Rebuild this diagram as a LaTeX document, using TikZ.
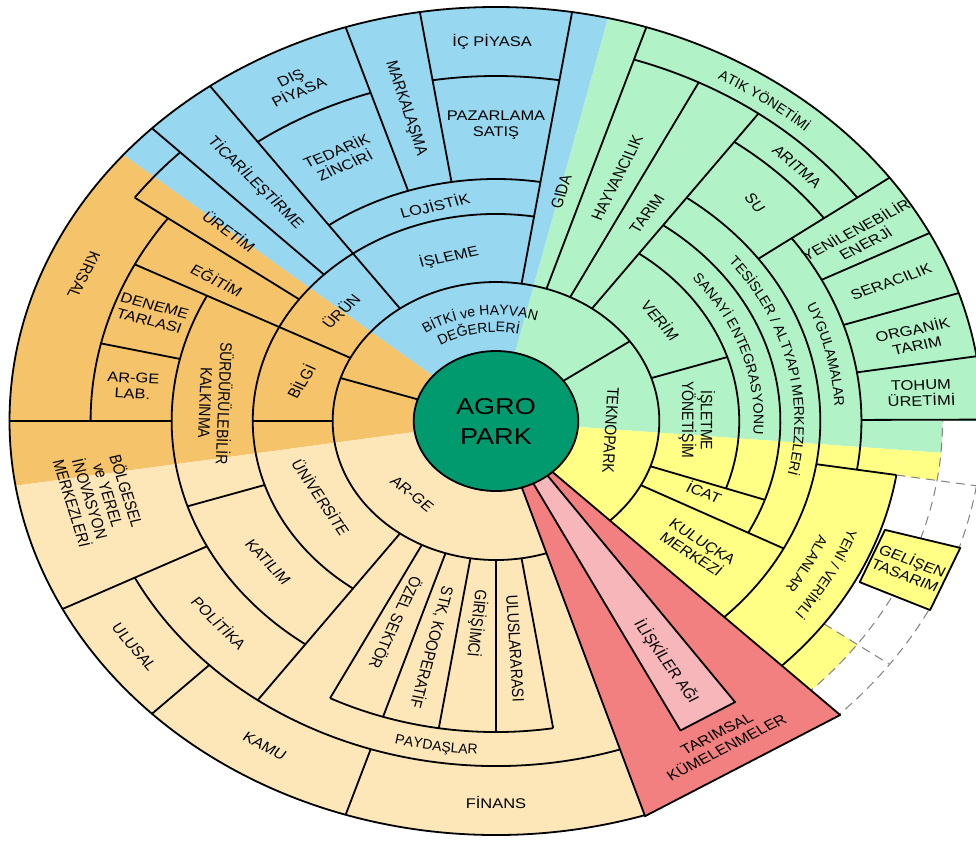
\documentclass[tikz,border=0pt]{standalone}
\usepackage{fontspec}
\setmainfont{Liberation Sans}
\usetikzlibrary{shapes.geometric,decorations.text}

\definecolor{skyblue}{HTML}{97D7EF}
\definecolor{mint}{HTML}{B1F3C6}
\definecolor{lemon}{HTML}{FFFF85}
\definecolor{amber}{HTML}{F5C46A}
\definecolor{sand}{HTML}{FDE7B9}
\definecolor{salmon}{HTML}{F28080}
\definecolor{blush}{HTML}{F7B6BA}
\definecolor{agrogreen}{HTML}{009A6E}

\newcommand\ringfont{\fontsize{14}{16}\selectfont}

\begin{document}
\begin{tikzpicture}[x=1pt,y=1pt,xscale=1.175]

\tikzset{%
  border/.style   = {line width=1.8pt, line join=round},
  dashedge/.style = {gray, line width=1pt, dash pattern=on 9pt off 6pt},
  word/.style     = {transform shape, align=center, inner sep=0pt, font=\ringfont},
  hub/.style      = {transform shape, ellipse, draw, line width=1.8pt, fill=agrogreen,
                     minimum width=140pt, minimum height=140pt, inner sep=0pt, align=center,
                     font=\fontsize{23}{30}\selectfont},
  curved/.style   = {decorate, decoration={text along path, text align=center, text={|\ringfont|#1}}},
}

\useasboundingbox (-422.1,-420) rectangle (408.5,421);
\clip (-422.1,-420) rectangle (408.5,421);

% colour sectors
\fill[mint]    (0,0) -- (-4.8:380) arc[start angle=-4.8, end angle=0, radius=380]
               -- (0:414) arc[start angle=0, end angle=76.7, radius=414] -- cycle;
\fill[skyblue] (0,0) -- (76.7:414) arc[start angle=76.7, end angle=140, radius=414] -- cycle;
\fill[amber]   (0,0) -- (140:414) arc[start angle=140, end angle=189, radius=414] -- cycle;
\fill[sand]    (0,0) -- (189:414) arc[start angle=189, end angle=288, radius=414] -- cycle;
\fill[lemon]   (0,0) -- (-47:345) arc[start angle=-47, end angle=-4.8, radius=345] -- cycle;
\fill[lemon]   (-9:345) arc[start angle=-9, end angle=-4.8, radius=345]
               -- (-4.8:380) arc[start angle=-4.8, end angle=-9, radius=380] -- cycle;
\fill[lemon]   (-47:345) arc[start angle=-47, end angle=-36, radius=345]
               -- (-36:380) arc[start angle=-36, end angle=-47, radius=380] -- cycle;

% open fields
\draw[dashedge] (-46:380) arc[start angle=-46, end angle=0, radius=380];
\draw[dashedge] (-46:414) arc[start angle=-46, end angle=-9, radius=414];
\draw[dashedge] (-9:345) -- (-9:414) (-36:345) -- (-36:414);

% rings
\draw[border] (-46.5:139) arc[start angle=-46.5, end angle=288.5, radius=139];
\draw[border] (-19:207) arc[start angle=-19, end angle=54, radius=207]
              (81:207) arc[start angle=81, end angle=234, radius=207];
\draw[border] (-27.5:242) arc[start angle=-27.5, end angle=54, radius=242]
              (81:242) arc[start angle=81, end angle=126, radius=242];
\draw[border] (-46:276) arc[start angle=-46, end angle=54, radius=276]
              (153:276) arc[start angle=153, end angle=234, radius=276];
\draw[border] (-9:311) arc[start angle=-9, end angle=36, radius=311]
              (243:311) arc[start angle=243, end angle=279, radius=311];
\draw[border] (-46:345) arc[start angle=-46, end angle=-9, radius=345]
              (36:345) arc[start angle=36, end angle=54, radius=345]
              (81:345) arc[start angle=81, end angle=99, radius=345]
              (108:345) arc[start angle=108, end angle=126, radius=345]
              (144:345) arc[start angle=144, end angle=180, radius=345]
              (207:345) arc[start angle=207, end angle=288.5, radius=345];
\draw[border] (36:380) arc[start angle=36, end angle=72, radius=380]
              (135:380) arc[start angle=135, end angle=144, radius=380];
\draw[border] (0:414) arc[start angle=0, end angle=287.8, radius=414];

% blue side
\draw[border] (81:139) -- (81:414) (72:139) -- (72:414)
              (99:242) -- (99:414) (108:242) -- (108:414)
              (126:139) -- (126:414) (135:207) -- (135:414);

% orange side
\draw[border] (144:207) -- (144:380) (153:139) -- (153:345)
              (167:276) -- (167:345) (162:60) -- (162:139)
              (180:139) -- (180:207) (180:276) -- (180:414)
              (198:207) -- (198:276);

% beige side
\draw[border] (207:276) -- (207:414) (225:345) -- (225:414)
              (234:139) -- (234:345) (243:139) -- (243:311)
              (252:139) -- (252:311) (252:345) -- (252:414)
              (261:139) -- (261:311) (270:139) -- (270:311)
              (279:139) -- (279:311);

% green and yellow side
\draw[border] (35:60) -- (35:139) (63:139) -- (63:380) (54:139) -- (54:380)
              (36:276) -- (36:414) (27:311) -- (27:414) (18:311) -- (18:414)
              (9:311) -- (9:414) (0.2:311) -- (0.2:414) (18:139) -- (18:207)
              (-9:276) -- (-9:345) (-19:139) -- (-19:242) (-27.5:139) -- (-27.5:276);
\filldraw[border, fill=lemon] (-18.2:348.5) -- (-17.8:415) -- (-27.1:415) -- (-27.5:349) -- cycle;

% clusters
\filldraw[border, fill=salmon] (-71.6:60) -- (-72.2:415) -- (-45.1:415) -- (-47:60) -- cycle;
\filldraw[border, fill=blush] (-63:60) -- (-63.1:347) -- (-54.1:347) -- (-50.6:60) -- cycle;

\node[hub] (agro) at (0,0) {AGRO\\PARK};

% inner rings
\path[curved={BİTKİ ve HAYVAN}] (138:106) arc[start angle=138, end angle=58, radius=106];
\path[curved={DEĞERLERİ}] (135:89) arc[start angle=135, end angle=65, radius=89];
\node[word, rotate=-43]  (arge)     at (225.6:102) {AR-GE};
\node[word, rotate=-93]  (tekno)    at (-5.3:98)   {TEKNOPARK};
\node[word, rotate=48]   (urun)     at (140.2:172) {ÜRÜN};
\node[word, rotate=62]   (bilgi)    at (166.5:171) {BİLGİ};
\node[word, rotate=-60]  (univ)     at (207.2:167) {ÜNİVERSİTE};
\node[word, rotate=14]   (isleme)   at (103.7:169) {İŞLEME};
\node[word, rotate=15]   (lojistik) at (103.6:222) {LOJİSTİK};

% blue labels
\node[word, rotate=-49]  (ticari)   at (130.6:314) {TİCARİLEŞTİRME};
\node[word, rotate=26]   (dis)      at (117:377)   {DIŞ\\PİYASA};
\node[word, rotate=26]   (tedarik)  at (116.7:295) {TEDARİK\\ZİNCİRİ};
\node[word, rotate=-74]  (marka)    at (103.8:322) {MARKALAŞMA};
\node[word]              (ic)       at (90.5:379)  {İÇ PİYASA};
\node[word]              (pazar)    at (90:296)    {PAZARLAMA\\SATIŞ};
\node[word, rotate=75]   (gida)     at (76.4:236)  {GIDA};

% green labels
\node[word, rotate=66.5] (hayvan)   at (67:264)    {HAYVANCILIK};
\node[word, rotate=57]   (tarim)    at (58.2:244)  {TARIM};
\path[curved={ATIK YÖNETİMİ}] (74:391) arc[start angle=74, end angle=34, radius=391];
\node[word, rotate=-45]  (aritma)   at (44.8:361)  {ARITMA};
\node[word, rotate=-55]  (su)       at (44.7:310)  {SU};
\node[word, rotate=31]   (enerji)   at (30.8:361)  {YENİLENEBİLİR\\ENERJİ};
\node[word, rotate=22.5] (sera)     at (22.5:364)  {SERACILIK};
\node[word, rotate=13.3] (organik)  at (13.3:366)  {ORGANİK\\TARIM};
\node[word, rotate=2]    (tohum)    at (4.4:363)   {TOHUM\\ÜRETİMİ};
\node[word, rotate=-54]  (verim)    at (35.7:173)  {VERİM};
\node[word, rotate=-90]  (isletme)  at (0.3:171)   {İŞLETME\\YÖNETİŞİM};
\path[curved={SANAYİ ENTEGRASYONU}] (52:219.5) arc[start angle=52, end angle=-16, radius=219.5];
\path[curved={TESİSLER / ALTYAPI MERKEZLERİ}] (48:254) arc[start angle=48, end angle=-22, radius=254];
\path[curved={UYGULAMALAR}] (33:288.5) arc[start angle=33, end angle=-7, radius=288.5];

% yellow labels
\node[word, rotate=-24]  (icat)     at (-21.8:191) {İCAT};
\node[word, rotate=-36.5] (kulucka) at (-36.6:213) {KULUÇKA\\MERKEZİ};
\path[curved={YENİ / VERİMLİ}] (-8:318.5) arc[start angle=-8, end angle=-48, radius=318.5];
\path[curved={ALANLAR}] (-13:297.5) arc[start angle=-13, end angle=-43, radius=297.5];
\node[word, rotate=-24]  (gelisen)  at (-22.6:381) {GELİŞEN\\TASARIM};

% red labels
\node[word, rotate=31]   (kume)     at (-59:373)   {TARIMSAL\\KÜMELENMELER};
\node[word, rotate=-59]  (iliski)   at (-58.9:281) {İLİŞKİLER AĞI};

% beige labels
\node[word, rotate=-87]  (uluslar)  at (274.1:228) {ULUSLARARASI};
\node[word, rotate=-96]  (girisim)  at (265.4:203) {GİRİŞİMCİ};
\node[word, rotate=-103] (stk)      at (256.5:233) {STK, KOOPERATİF};
\node[word, rotate=-112] (ozel)     at (247.2:219) {ÖZEL SEKTÖR};
\path[curved={PAYDAŞLAR}] (241:333.5) arc[start angle=241, end angle=281, radius=333.5];
\node[word]              (finans)   at (270:381)   {FİNANS};
\node[word, rotate=-32]  (kamu)     at (238.8:380) {KAMU};
\node[word, rotate=-54]  (ulusal)   at (216.3:382) {ULUSAL};
\node[word, rotate=-49]  (politika) at (220.6:310) {POLİTİKA};
\node[word, rotate=-52]  (katilim)  at (216:240)   {KATILIM};

% orange labels
\node[word, rotate=-92]  (surdur)   at (175.7:239) {SÜRDÜRÜLEBİLİR\\KALKINMA};
\node[word, rotate=-114] (kirsal)   at (157.4:380) {KIRSAL};
\node[word, rotate=-40]  (uretim)   at (140:296)   {ÜRETİM};
\node[word, rotate=-31]  (egitim)   at (149.3:276) {EĞİTİM};
\node[word, rotate=-17]  (deneme)   at (159.8:312) {DENEME\\TARLASI};
\node[word, rotate=-3]   (arlab)    at (173.5:311) {AR-GE\\LAB.};
\node[word, rotate=-75]  (bolgesel) at (192.7:345.5) {BÖLGESEL\\ve YEREL\\İNOVASYON\\MERKEZLERİ};

\end{tikzpicture}
\end{document}
